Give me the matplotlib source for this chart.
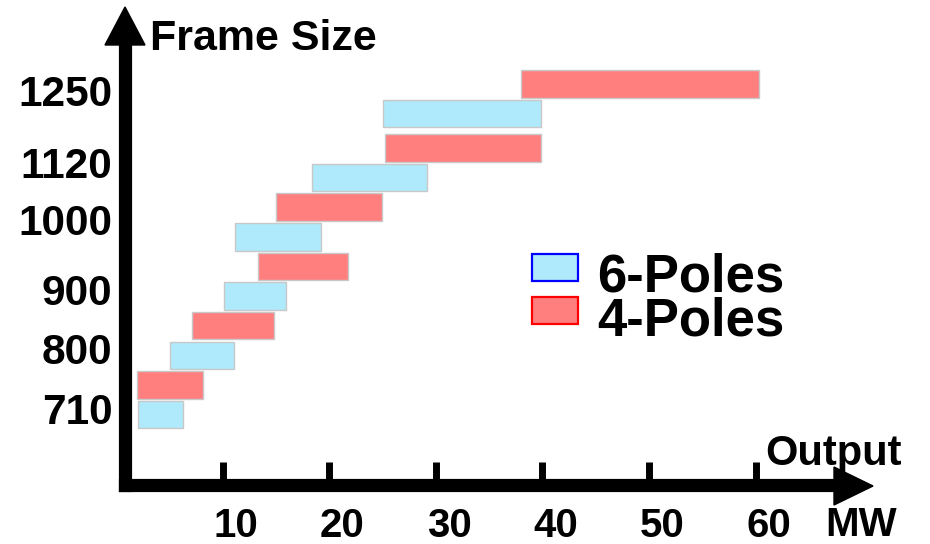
import numpy as np
from matplotlib import pyplot as plt
from matplotlib.patches import Polygon, Rectangle
from matplotlib.transforms import ScaledTranslation

# frame sizes and output ranges (MW)
frames = ["710", "800", "900", "1000", "1120", "1250"]
six_lo = [2.0, 5.0, 10.1, 11.1, 18.4, 25.0]
six_hi = [6.2, 11.0, 15.9, 19.2, 29.2, 39.9]
four_lo = [1.9, 7.1, 13.3, 15.0, 25.2, 38.0]
four_hi = [8.1, 14.8, 21.7, 24.9, 39.9, 60.3]
x_ticks = [10, 20, 30, 40, 50, 60]

blue = "#aeeafc"
red = "#ff7f7f"
W, H = 930, 544

fig = plt.figure(figsize=(W / 100, H / 100), dpi=100)
# axes placed so that the spines sit where the drawn arrows are
ax = fig.add_axes([125 / W, 1 - 485 / H, (834 - 125) / W, (485 - 45) / H])
ax.set_xlim(0.8, 67.37)
ax.set_ylim(-2.38, 12.48)

# slot layout: 6-pole below, 4-pole above, small extra gap for the top group
n = len(frames)
base = 2 * np.arange(n) + np.where(np.arange(n) == n - 1, 0.17, 0.0)
y_six = base
y_four = base + 1
label_y = base + np.array([0.22, 0.22, 0.23, 0.57, 0.52, 0.76])

ax.barh(y_six, np.array(six_hi) - np.array(six_lo), left=six_lo, height=0.93,
        color=blue, edgecolor="#c8c8c8", linewidth=1)
ax.barh(y_four, np.array(four_hi) - np.array(four_lo), left=four_lo, height=0.93,
        color=red, edgecolor="#c8c8c8", linewidth=1)

for s in ["top", "right"]:
    ax.spines[s].set_visible(False)
for s in ["left", "bottom"]:
    ax.spines[s].set_linewidth(9.5)
    ax.spines[s].set_capstyle("projecting")

ax.set_xticks(x_ticks)
ax.set_xticklabels([str(t) for t in x_ticks], family="Liberation Sans",
                   fontweight="bold", fontsize=29)
ax.tick_params(axis="x", direction="in", length=16.5, width=5, pad=16, color="black")
# labels sit a little to the right of their ticks in the original
shift = ScaledTranslation(0.13, 0, fig.dpi_scale_trans)
for lab in ax.get_xticklabels():
    lab.set_transform(lab.get_transform() + shift)

ax.set_yticks(label_y)
ax.set_yticklabels(frames, family="Liberation Sans", fontweight="bold", fontsize=30.5)
ax.tick_params(axis="y", length=0, pad=9)

# arrow heads
def px(x, y):
    return (x / W, 1 - y / H)

fig.add_artist(Polygon([px(105, 45), px(145, 45), px(125, 7)], closed=True,
                       color="black", transform=fig.transFigure))
fig.add_artist(Polygon([px(834, 467), px(834, 505), px(873, 486)], closed=True,
                       color="black", transform=fig.transFigure))

# axis titles
fig.text(*px(150, 50), "Frame Size", family="Liberation Sans", fontweight="bold",
         fontsize=31, va="baseline", ha="left")
fig.text(*px(765, 465), "Output", family="Liberation Sans", fontweight="bold",
         fontsize=30, va="baseline", ha="left")
fig.text(*px(861, 536), "MW", family="Liberation Sans",
         fontweight="bold", fontsize=29, va="baseline", ha="center")

# legend
leg = [("6-Poles", blue, "#0000ff", 254), ("4-Poles", red, "#ff0000", 297)]
for label, fc, ec, top in leg:
    fig.add_artist(Rectangle(px(532, top + 27), 46 / W, 27 / H, facecolor=fc,
                             edgecolor=ec, linewidth=1.6, transform=fig.transFigure))
    fig.text(*px(597, top + 38), label, family="Liberation Sans", fontweight="bold",
             fontsize=38, va="baseline", ha="left")

fig.savefig("out.png", dpi=100)
